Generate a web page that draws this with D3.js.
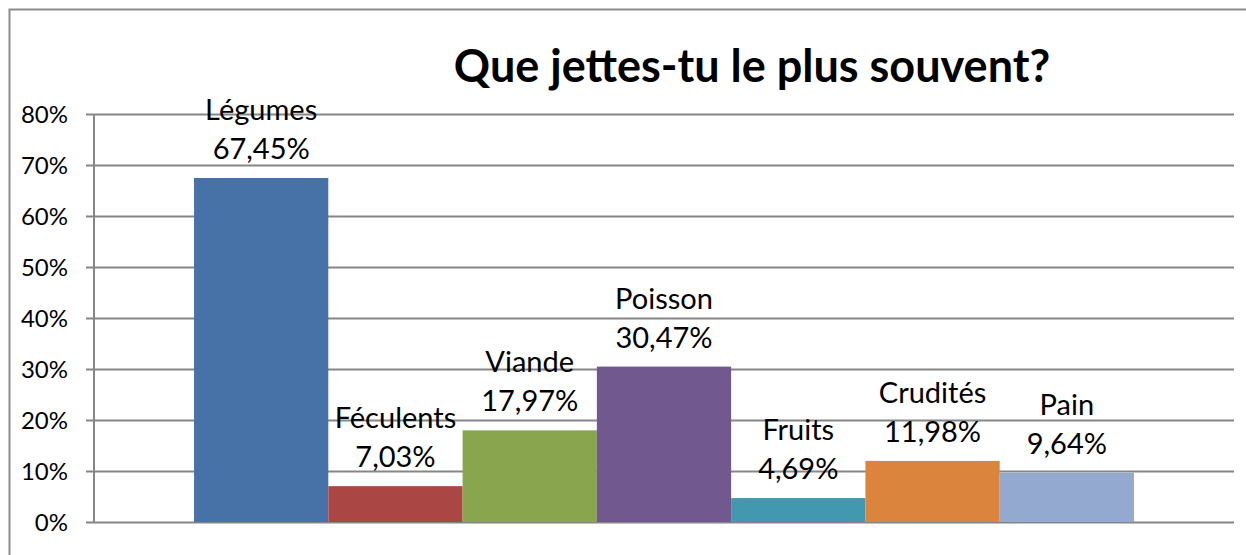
<!DOCTYPE html>
<html>
<head>
<meta charset="utf-8">
<script src="https://cdn.jsdelivr.net/npm/d3@7"></script>
<style>
  body { margin: 0; background: #fff; }
  text { font-family: Lato, "Open Sans", sans-serif; fill: #000; }
</style>
</head>
<body>
<div id="chart"></div>
<script>
// Que jettes-tu le plus souvent?

// data
const categories = ['Légumes', 'Féculents', 'Viande', 'Poisson', 'Fruits', 'Crudités', 'Pain']
const values = [67.45, 7.03, 17.97, 30.47, 4.69, 11.98, 9.64]
const valueLabels = ['67,45%', '7,03%', '17,97%', '30,47%', '4,69%', '11,98%', '9,64%']
const colors = ['#4672A8', '#AA4744', '#89A54E', '#71588F', '#4198AF', '#DB843D', '#93A9CF']
const yTicks = [0, 10, 20, 30, 40, 50, 60, 70, 80]

const W = 1246, H = 555
const plot = { left: 94, right: 1234, top: 114, bottom: 522 }

const svg = d3.select('#chart')
  .append('svg')
    .attr('width', W)
    .attr('height', H)

// chart frame (only top and left edges are in view)
svg.append('path')
  .attr('d', `M 9.5 ${H} L 9.5 9.5 L ${W} 9.5`)
  .attr('fill', 'none')
  .attr('stroke', '#8c8c8c')
  .attr('stroke-width', 2)

// scales
const y = d3.scaleLinear().domain([0, 80]).range([plot.bottom, plot.top])
const x = d3.scaleBand()
  .domain(categories)
  .range([plot.left, plot.right])
  .paddingInner(0)
  .paddingOuter(0.745)

// gridlines + y axis
const yAxis = d3.axisLeft(y)
  .tickValues(yTicks)
  .tickFormat(d => d + '%')
  .tickSize(-(plot.right - plot.left))
  .tickPadding(26)

const gAxis = svg.append('g')
  .attr('transform', `translate(${plot.left},0)`)
  .call(yAxis)

gAxis.select('.domain').remove()
gAxis.selectAll('.tick line')
  .attr('x1', -8)
  .attr('stroke', '#868686')
  .attr('stroke-width', 2)
gAxis.selectAll('.tick text')
  .style('font-size', '24px')
  .attr('dy', '0.35em')

svg.append('line')
  .attr('x1', plot.left).attr('x2', plot.left)
  .attr('y1', plot.top).attr('y2', plot.bottom)
  .attr('stroke', '#868686')
  .attr('stroke-width', 2)

// bars
svg.selectAll('rect.bar')
  .data(categories)
  .enter()
  .append('rect')
    .attr('class', 'bar')
    .attr('x', d => x(d))
    .attr('width', x.bandwidth())
    .attr('y', (d, i) => y(values[i]))
    .attr('height', (d, i) => y(0) - y(values[i]))
    .attr('fill', (d, i) => colors[i])

// labels above bars
const labels = svg.selectAll('g.label')
  .data(categories)
  .enter()
  .append('g')
    .attr('class', 'label')
    .attr('transform', (d, i) => `translate(${x(d) + x.bandwidth() / 2},${y(values[i]) - 19})`)

labels.append('text')
  .attr('text-anchor', 'middle')
  .attr('y', -39)
  .style('font-size', '29px')
  .text(d => d)

labels.append('text')
  .attr('text-anchor', 'middle')
  .style('font-size', '29px')
  .text((d, i) => valueLabels[i])

// title
svg.append('text')
  .attr('x', 752)
  .attr('y', 82)
  .attr('text-anchor', 'middle')
  .style('font-size', '45px')
  .style('font-weight', 'bold')
  .text('Que jettes-tu le plus souvent?')
</script>
</body>
</html>
